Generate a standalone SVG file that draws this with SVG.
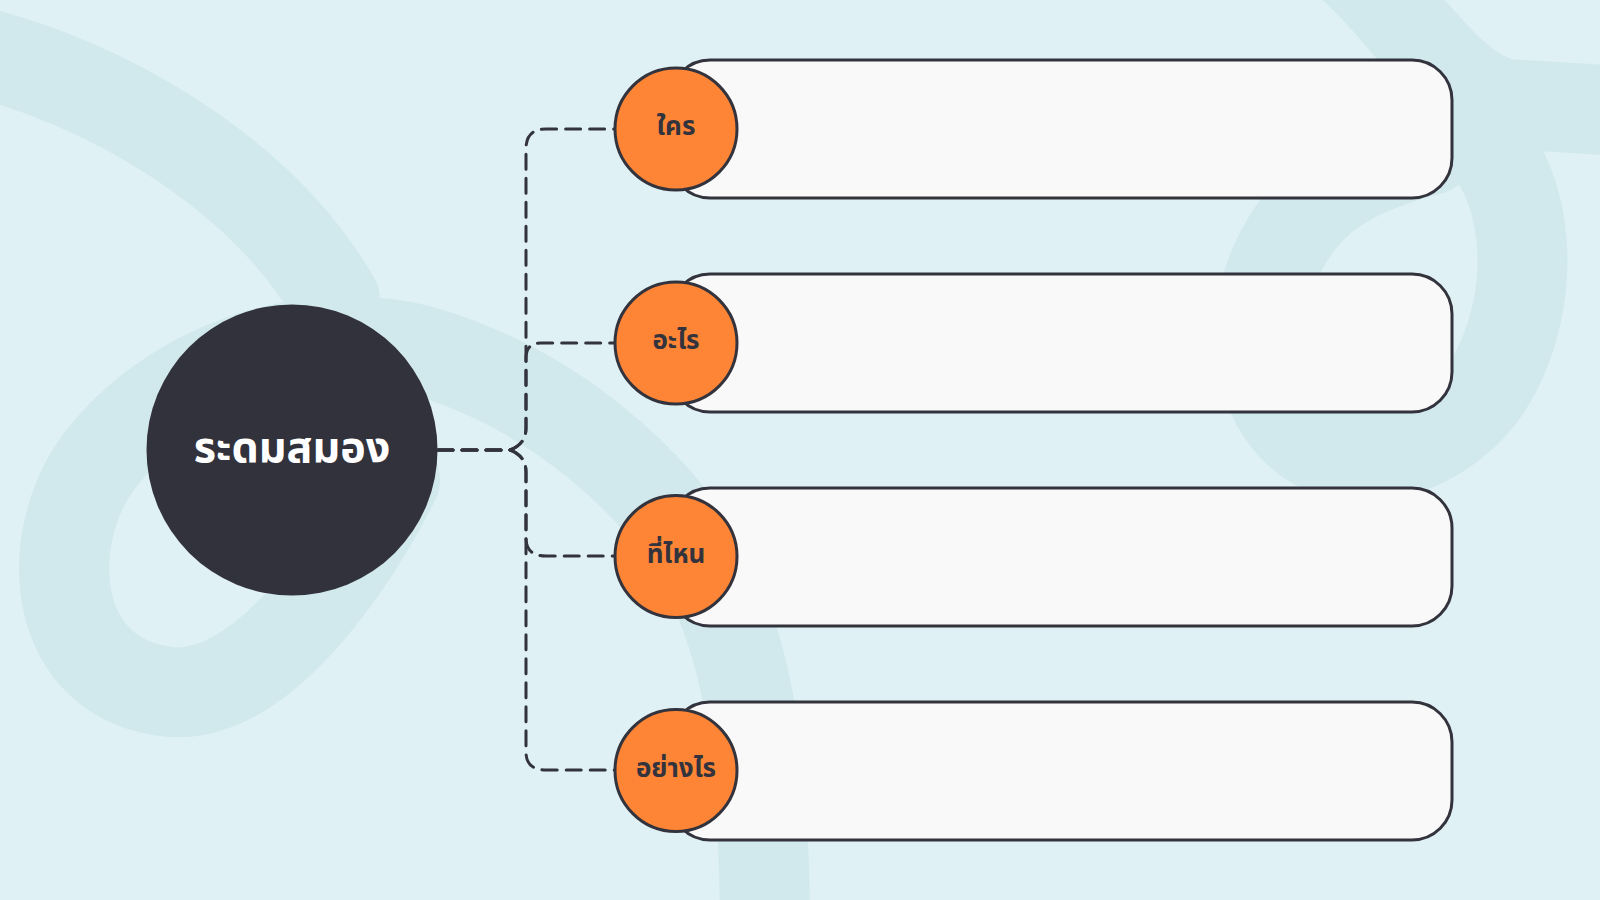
<svg xmlns="http://www.w3.org/2000/svg" width="1600" height="900" viewBox="0 0 1600 900">
<style>
.band{fill:none;stroke:#d1e9ed;stroke-width:90;stroke-linecap:round;stroke-linejoin:round}
.conn{fill:none;stroke:#33333d;stroke-width:3;stroke-dasharray:15 9;stroke-linecap:round}
.card{fill:#f9f9f9;stroke:#33333d;stroke-width:3}
.dot{fill:#fd8535;stroke:#33333d;stroke-width:3}
.lbl{font-family:"Noto Sans Thai","Noto Sans","DejaVu Sans",sans-serif;font-weight:700;font-size:26px;fill:#33333d;text-anchor:middle;dominant-baseline:central}
.title{font-family:"Noto Sans Thai","Noto Sans","DejaVu Sans",sans-serif;font-weight:700;font-size:43px;fill:#ffffff;text-anchor:middle;dominant-baseline:central}
</style>
<rect x="0" y="0" width="1600" height="900" fill="#dff1f4"/>
<g id="background">
<path class="band" d="M -30 50 C 100 80 260 170 335 300"/>
<path class="band" d="M 765 940 C 765 760 750 650 700 560 C 660 490 560 390 420 350 C 300 320 170 370 100 460 C 40 540 50 680 170 692 C 260 700 350 570 395 480"/>
<path class="band" d="M 1345 -40 C 1405 10 1445 90 1505 104 L 1640 112"/>
<path class="band" d="M 1440 110 C 1535 150 1545 300 1485 390 C 1435 460 1335 482 1287 420 C 1240 360 1255 260 1320 200 C 1350 175 1390 160 1430 150"/>
</g>
<g id="connectors">
<path class="conn" d="M 438 450 H 510 Q 526 444 526 428 V 149 Q 526 129 546 129 H 615"/>
<path class="conn" d="M 438 450 H 510 Q 526 444 526 428 V 358 Q 526 343 541 343 H 615"/>
<path class="conn" d="M 438 450 H 510 Q 526 456 526 472 V 538 Q 526 556 546 556 H 615"/>
<path class="conn" d="M 438 450 H 510 Q 526 456 526 472 V 752 Q 526 770 546 770 H 615"/>
</g>
<g id="center">
<circle cx="292" cy="450" r="145.5" fill="#32323c"/>
<text class="title" x="292" y="448">ระดมสมอง</text>
</g>
<g id="node-who">
<rect class="card" x="670" y="60" width="782" height="138" rx="40"/>
<circle class="dot" cx="676" cy="129" r="61"/>
<text class="lbl" x="676" y="127">ใคร</text>
</g>
<g id="node-what">
<rect class="card" x="670" y="274" width="782" height="138" rx="40"/>
<circle class="dot" cx="676" cy="343" r="61"/>
<text class="lbl" x="676" y="341">อะไร</text>
</g>
<g id="node-where">
<rect class="card" x="670" y="488" width="782" height="138" rx="40"/>
<circle class="dot" cx="676" cy="556.5" r="61"/>
<text class="lbl" x="676" y="555">ที่ไหน</text>
</g>
<g id="node-how">
<rect class="card" x="670" y="702" width="782" height="138" rx="40"/>
<circle class="dot" cx="676" cy="770.5" r="61"/>
<text class="lbl" x="676" y="769">อย่างไร</text>
</g>
</svg>
